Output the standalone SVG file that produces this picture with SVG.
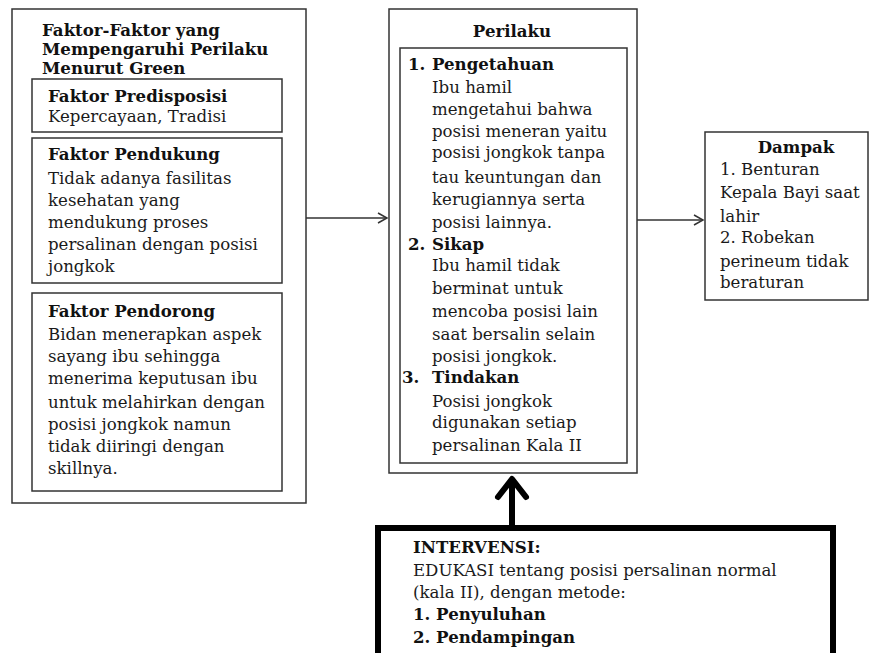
<svg xmlns="http://www.w3.org/2000/svg" width="873" height="653" viewBox="0 0 873 653">
<defs>
<style>
.box{fill:#fff;stroke:#333;stroke-width:1.5}
.t{font-family:"DejaVu Serif","Liberation Serif",serif;font-size:16.6px;fill:#1a1a1a}
.b{font-weight:bold;fill:#111}
.c{text-anchor:middle}
.ln{stroke:#333;stroke-width:1.5;fill:none}
</style>
<marker id="ah" markerWidth="12" markerHeight="12" refX="10" refY="6" orient="auto" markerUnits="userSpaceOnUse">
<path d="M1,1 L10,6 L1,11" fill="none" stroke="#333" stroke-width="1.5"/>
</marker>
</defs>
<rect width="873" height="653" fill="#fff"/>

<g id="faktor">
<rect class="box" x="12" y="9" width="294" height="494"/>
<text class="t b" x="42" y="36">Faktor-Faktor yang</text>
<text class="t b" x="42" y="55">Mempengaruhi Perilaku</text>
<text class="t b" x="42" y="74">Menurut Green</text>
</g>
<g id="predisposisi">
<rect class="box" x="32" y="79" width="250" height="53"/>
<text class="t b" x="48" y="102">Faktor Predisposisi</text>
<text class="t" x="48" y="122">Kepercayaan, Tradisi</text>
</g>
<g id="pendukung">
<rect class="box" x="32" y="138" width="250" height="145"/>
<text class="t b" x="48" y="160">Faktor Pendukung</text>
<text class="t" x="48" y="184">Tidak adanya fasilitas</text>
<text class="t" x="48" y="206">kesehatan yang</text>
<text class="t" x="48" y="228">mendukung proses</text>
<text class="t" x="48" y="250">persalinan dengan posisi</text>
<text class="t" x="48" y="272">jongkok</text>
</g>
<g id="pendorong">
<rect class="box" x="32" y="293" width="250" height="198"/>
<text class="t b" x="48" y="317">Faktor Pendorong</text>
<text class="t" x="48" y="340">Bidan menerapkan aspek</text>
<text class="t" x="48" y="362">sayang ibu sehingga</text>
<text class="t" x="48" y="384">menerima keputusan ibu</text>
<text class="t" x="48" y="408">untuk melahirkan dengan</text>
<text class="t" x="48" y="430">posisi jongkok namun</text>
<text class="t" x="48" y="452">tidak diiringi dengan</text>
<text class="t" x="48" y="474">skillnya.</text>
</g>

<g id="perilaku">
<rect class="box" x="389" y="9" width="248" height="464"/>
<text class="t b c" x="512" y="37">Perilaku</text>
<rect class="box" x="400" y="48" width="227" height="415"/>
<text class="t b" x="408" y="70">1.</text>
<text class="t b" x="432" y="70">Pengetahuan</text>
<text class="t" x="432" y="93">Ibu hamil</text>
<text class="t" x="432" y="115">mengetahui bahwa</text>
<text class="t" x="432" y="137">posisi meneran yaitu</text>
<text class="t" x="432" y="158">posisi jongkok tanpa</text>
<text class="t" x="432" y="183">tau keuntungan dan</text>
<text class="t" x="432" y="205">kerugiannya serta</text>
<text class="t" x="432" y="228">posisi lainnya.</text>
<text class="t b" x="408" y="250">2.</text>
<text class="t b" x="432" y="250">Sikap</text>
<text class="t" x="432" y="271">Ibu hamil tidak</text>
<text class="t" x="432" y="294">berminat untuk</text>
<text class="t" x="432" y="317">mencoba posisi lain</text>
<text class="t" x="432" y="340">saat bersalin  selain</text>
<text class="t" x="432" y="362">posisi jongkok.</text>
<text class="t b" x="402" y="383">3.</text>
<text class="t b" x="432" y="383">Tindakan</text>
<text class="t" x="432" y="407">Posisi jongkok</text>
<text class="t" x="432" y="428">digunakan setiap</text>
<text class="t" x="432" y="451">persalinan Kala II</text>
</g>

<g id="dampak">
<rect class="box" x="705" y="132" width="163" height="168"/>
<text class="t b c" x="796" y="153">Dampak</text>
<text class="t" x="720" y="175">1. Benturan</text>
<text class="t" x="720" y="198">Kepala Bayi saat</text>
<text class="t" x="720" y="222">lahir</text>
<text class="t" x="720" y="243">2. Robekan</text>
<text class="t" x="720" y="267">perineum tidak</text>
<text class="t" x="720" y="288">beraturan</text>
</g>

<g id="intervensi">
<rect x="378" y="528" width="455" height="140" fill="#fff" stroke="#000" stroke-width="6"/>
<text class="t b" x="413" y="553">INTERVENSI:</text>
<text class="t" x="413" y="576">EDUKASI tentang posisi persalinan normal</text>
<text class="t" x="413" y="598">(kala II), dengan metode:</text>
<text class="t b" x="413" y="620">1. Penyuluhan</text>
<text class="t b" x="413" y="643">2. Pendampingan</text>
</g>

<g id="connectors">
<line class="ln" x1="306" y1="218" x2="387" y2="218" marker-end="url(#ah)"/>
<line class="ln" x1="637" y1="220" x2="703" y2="220" marker-end="url(#ah)"/>
<line x1="512" y1="526" x2="512" y2="480" stroke="#000" stroke-width="6"/>
<polyline points="498,497 512,479 526,497" fill="none" stroke="#000" stroke-width="6" stroke-linecap="round" stroke-linejoin="round"/>
</g>
</svg>
